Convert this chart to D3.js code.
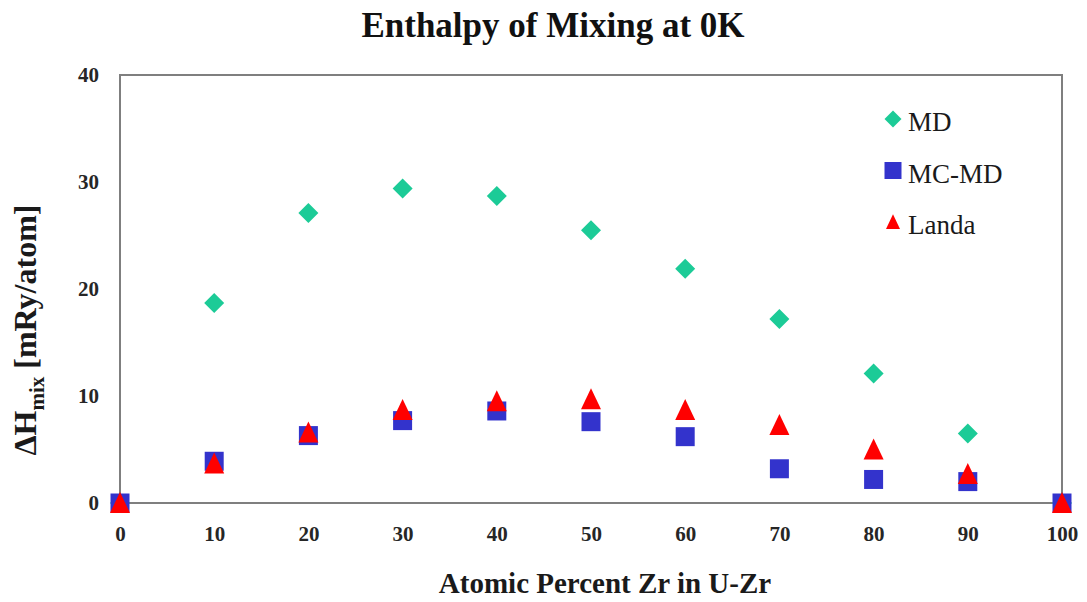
<!DOCTYPE html>
<html>
<head>
<meta charset="utf-8">
<script src="https://cdn.jsdelivr.net/npm/d3@7"></script>
<style>
  body { margin: 0; background: #fff; }
  svg text { font-family: "Liberation Serif", "Times New Roman", serif; font-weight: bold; }
</style>
</head>
<body>
<div class="chart"></div>
<script>
// data
const x_values = [0, 10, 20, 30, 40, 50, 60, 70, 80, 90, 100];
const md_values = [0, 18.7, 27.1, 29.4, 28.7, 25.5, 21.9, 17.2, 12.1, 6.5, 0];
const mcmd_values = [0, 3.9, 6.3, 7.7, 8.6, 7.6, 6.2, 3.2, 2.2, 2.0, 0];
const landa_values = [0, 3.7, 6.6, 8.7, 9.5, 9.7, 8.7, 7.3, 5.0, 2.7, 0];
const x_ticks = [0, 10, 20, 30, 40, 50, 60, 70, 80, 90, 100];
const y_ticks = [0, 10, 20, 30, 40];
const series_names = ['MD', 'MC-MD', 'Landa'];

const serif = '"Liberation Serif", "Times New Roman", serif';
const svg_width = 1087;
const svg_height = 602;
const margin = {top: 75, right: 25, bottom: 99, left: 120};
const chart_width = svg_width - margin.left - margin.right;
const chart_height = svg_height - margin.top - margin.bottom;

// custom marker shapes (excel-like)
const diamond = {
    draw(ctx, size) {
        const r = Math.sqrt(size) / 2;
        ctx.moveTo(0, -r); ctx.lineTo(r, 0); ctx.lineTo(0, r); ctx.lineTo(-r, 0); ctx.closePath();
    }
};
const square = {
    draw(ctx, size) {
        const r = Math.sqrt(size) / 2;
        ctx.rect(-r, -r, 2 * r, 2 * r);
    }
};
const triangle = {
    draw(ctx, size) {
        const r = Math.sqrt(size) / 2;
        ctx.moveTo(0, -r * 1.1); ctx.lineTo(r, r); ctx.lineTo(-r, r); ctx.closePath();
    }
};

const series = [
    {name: series_names[0], color: '#1ccb97', shape: diamond, size: 400, legend_size: 289, values: md_values},
    {name: series_names[1], color: '#3333cc', shape: square, size: 361, legend_size: 289, values: mcmd_values},
    {name: series_names[2], color: '#ff0000', shape: triangle, size: 400, legend_size: 196, values: landa_values}
];

const svg = d3.select('.chart').append('svg')
    .attr('width', svg_width)
    .attr('height', svg_height);

const g = svg.append('g').attr('transform', `translate(${margin.left}, ${margin.top})`);

const x_scale = d3.scaleLinear().domain([0, 100]).range([0, chart_width]);
const y_scale = d3.scaleLinear().domain([0, 40]).range([chart_height, 0]);

// plot box
g.append('rect')
    .attr('x', 0).attr('y', 0)
    .attr('width', chart_width).attr('height', chart_height)
    .style('fill', 'none')
    .style('stroke', '#7f7f7f')
    .style('stroke-width', 2);

// axes (labels only)
const x_axis = d3.axisBottom(x_scale).tickValues(x_ticks).tickSize(0).tickPadding(23);
g.append('g')
    .attr('class', 'x axis')
    .attr('transform', `translate(0, ${chart_height})`)
    .call(x_axis)
    .call(a => a.select('.domain').remove())
    .selectAll('text')
    .style('font-size', '21px')
    .style('font-family', serif)
    .style('fill', '#262626');

const y_axis = d3.axisLeft(y_scale).tickValues(y_ticks).tickSize(0).tickPadding(21);
g.append('g')
    .attr('class', 'y axis')
    .call(y_axis)
    .call(a => a.select('.domain').remove())
    .selectAll('text')
    .style('font-size', '21px')
    .style('font-family', serif)
    .style('fill', '#262626');

// points
series.forEach(s => {
    const pts = x_values.map((x, i) => ({x: x, y: s.values[i]})).filter(d => d.y !== null);
    g.append('g')
        .attr('class', `series ${s.name.toLowerCase()}`)
        .selectAll('path')
        .data(pts)
        .enter()
        .append('path')
        .attr('transform', d => `translate(${x_scale(d.x)}, ${y_scale(d.y)})`)
        .attr('d', d3.symbol().type(s.shape).size(s.size))
        .style('fill', s.color);
});

// legend
const legend = svg.append('g').attr('class', 'legend').attr('transform', 'translate(893, 119)');
const items = legend.selectAll('g').data(series).enter().append('g')
    .attr('transform', (d, i) => `translate(0, ${i * 51.5})`);
items.append('path')
    .attr('d', d => d3.symbol().type(d.shape).size(d.legend_size)())
    .style('fill', d => d.color);
items.append('text')
    .attr('x', 15)
    .attr('y', 12)
    .style('font-family', serif)
    .style('font-weight', 'normal')
    .style('font-size', '27px')
    .style('fill', '#1a1a1a')
    .text(d => d.name);

// title
svg.append('text')
    .attr('x', 553).attr('y', 37)
    .attr('text-anchor', 'middle')
    .style('font-family', serif)
    .style('font-size', '35px')
    .style('fill', '#111')
    .text('Enthalpy of Mixing at 0K');

// axis titles
svg.append('text')
    .attr('x', 605).attr('y', 593)
    .attr('text-anchor', 'middle')
    .style('font-family', serif)
    .style('font-size', '29px')
    .style('fill', '#1a1a1a')
    .text('Atomic Percent Zr in U-Zr');

const y_title = svg.append('text')
    .attr('transform', 'translate(36, 330) rotate(-90)')
    .attr('text-anchor', 'middle')
    .style('font-family', serif)
    .style('font-size', '32px')
    .style('fill', '#1a1a1a');
y_title.append('tspan').text('ΔH');
y_title.append('tspan').text('mix').attr('dy', 8).style('font-size', '21px');
y_title.append('tspan').text(' [mRy/atom]').attr('dy', -8);
</script>
</body>
</html>
